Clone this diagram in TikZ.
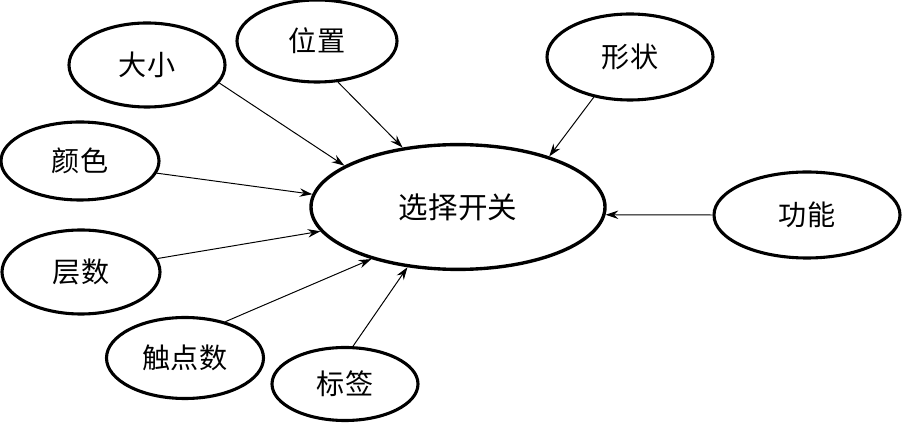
\documentclass[tikz,border=0pt]{standalone}
\usepackage{fontspec}
\newfontfamily\cjk{Noto Sans CJK SC}
\usetikzlibrary{shapes.geometric,arrows.meta}
\begin{document}
\begin{tikzpicture}[
    every node/.style={font=\cjk\fontsize{20}{24}\selectfont},
    attr/.style={ellipse, draw=black, line width=2.2pt, inner sep=0pt},
    hub/.style={ellipse, draw=black, line width=2.4pt, inner sep=0pt,
                minimum width=7.35cm, minimum height=3.12cm},
    link/.style={line width=0.7pt, -{Stealth[length=9pt, width=6pt, inset=3pt]}},
]
\useasboundingbox (0,0) rectangle (22.6,-10.575);

% ── Nodo central ──
\node[hub, font=\cjk\fontsize{21}{25}\selectfont] (sel) at (11.45,-5.175) {选择开关};

% ── Atributos ──
\node[attr, minimum width=3.9cm,  minimum height=2.1cm]  (size)  at (3.675,-1.625) {大小};
\node[attr, minimum width=4.0cm,  minimum height=2.05cm] (pos)   at (7.925,-1.025) {位置};
\node[attr, minimum width=4.15cm, minimum height=2.15cm] (shape) at (15.75,-1.425) {形状};
\node[attr, minimum width=3.95cm, minimum height=1.95cm] (color) at (2.0,-4.025)   {颜色};
\node[attr, minimum width=4.65cm, minimum height=2.15cm] (func)  at (20.175,-5.375) {功能};
\node[attr, minimum width=3.95cm, minimum height=2.1cm]  (layer) at (2.025,-6.8)   {层数};
\node[attr, minimum width=3.925cm, minimum height=2.025cm] (cont) at (4.625,-8.95) {触点数};
\node[attr, minimum width=3.65cm, minimum height=1.825cm] (label) at (8.625,-9.6)  {标签};

% ── Enlaces ──
\draw[link] (size.-14)   -- (sel.160);
\draw[link] (pos.-63)    -- (sel.133);
\draw[link] (shape.-132) -- (sel.29);
\draw[link] (color.-9)   -- (sel.175);
\draw[link] (func.180)   -- (sel.-3);
\draw[link] (layer.10)   -- (sel.-170);
\draw[link] (cont.42)    -- (sel.211);
\draw[link] (label.78)   -- (sel.230);
\end{tikzpicture}
\end{document}
